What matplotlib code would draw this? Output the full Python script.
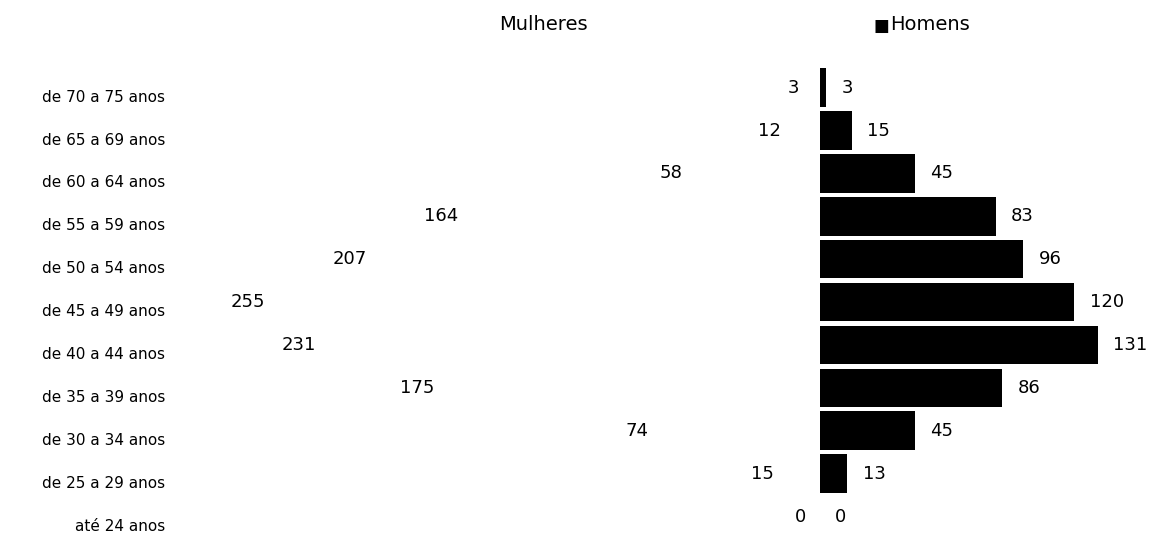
import matplotlib.pyplot as plt
import matplotlib.transforms as mtransforms
import numpy as np

# age groups, top to bottom
faixas = ["de 70 a 75 anos", "de 65 a 69 anos", "de 60 a 64 anos", "de 55 a 59 anos",
          "de 50 a 54 anos", "de 45 a 49 anos", "de 40 a 44 anos", "de 35 a 39 anos",
          "de 30 a 34 anos", "de 25 a 29 anos", "até 24 anos"]
mulheres = [3, 12, 58, 164, 207, 255, 231, 175, 74, 15, 0]
homens = [3, 15, 45, 83, 96, 120, 131, 86, 45, 13, 0]

plt.rcParams['font.family'] = ['DejaVu Sans']

fig = plt.figure(figsize=(11.54, 5.38), dpi=100)
ax = fig.add_axes([190 / 1154, 0.0, (1140 - 190) / 1154, 0.877])

y = np.arange(len(faixas))
# women bars are drawn in white (invisible in the original)
ax.barh(y, [-v for v in mulheres], height=0.9, color='white')
ax.barh(y, homens, height=0.9, color='black')

for yi, v in zip(y, mulheres):
    ax.annotate(str(v), (-v, yi), xytext=(-10, 0), textcoords='offset points',
                ha='right', va='center', fontsize=13)
for yi, v in zip(y, homens):
    ax.annotate(str(v), (v, yi), xytext=(11, 0), textcoords='offset points',
                ha='left', va='center', fontsize=13)

ax.set_xlim(-297, 151)
ax.set_ylim(len(faixas) - 0.5, -0.5)
ax.set_yticks(y)
ax.set_yticklabels(faixas, fontsize=11)
ax.tick_params(axis='y', length=0, pad=18)
ax.set_xticks([])
for s in ax.spines.values():
    s.set_visible(False)

# row labels sit a little lower than the bars
shift = mtransforms.ScaledTranslation(0, -8 / 100, fig.dpi_scale_trans)
for lab in ax.get_yticklabels():
    lab.set_transform(lab.get_transform() + shift)

fig.text(543 / 1154, 1 - 25 / 538, "Mulheres", ha='center', va='center', fontsize=14)
fig.text(881 / 1154, 1 - 26 / 538, "■", ha='center', va='center', fontsize=12)
fig.text(890 / 1154, 1 - 25 / 538, "Homens", ha='left', va='center', fontsize=14)

fig.savefig("out.png", dpi=100)
